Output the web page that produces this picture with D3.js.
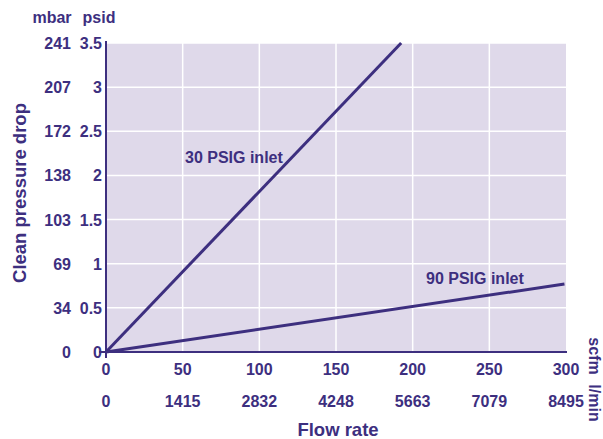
<!DOCTYPE html>
<html><head><meta charset="utf-8">
<script src="https://cdn.jsdelivr.net/npm/d3@7"></script>
<style>body{margin:0;background:#fff}text{font-family:"Liberation Sans",Arial,sans-serif;font-weight:bold;fill:#3d2f7f}</style>
</head><body>
<script>
const psidTicks = [0, 0.5, 1, 1.5, 2, 2.5, 3, 3.5];
const mbarLabels = ["0", "34", "69", "103", "138", "172", "207", "241"];
const scfmTicks = [0, 50, 100, 150, 200, 250, 300];
const lminLabels = ["0", "1415", "2832", "4248", "5663", "7079", "8495"];
const series30 = [[0, 0], [192.5, 3.5]];
const series90 = [[0, 0], [299, 0.77]];

const W = 603, H = 439, col = "#3d2f7f";
const svg = d3.select("body").append("svg").attr("width", W).attr("height", H);
const x = d3.scaleLinear().domain([0, 300]).range([106, 566]);
const y = d3.scaleLinear().domain([0, 3.5]).range([352, 43]);

svg.append("rect").attr("x", 107).attr("y", y(3.5)).attr("width", x(300) - 107).attr("height", y(0) - y(3.5)).attr("fill", "#dfd9ea");
svg.append("g").selectAll("line").data(psidTicks.slice(1)).join("line")
  .attr("x1", 107).attr("x2", x(300)).attr("y1", d => y(d)).attr("y2", d => y(d))
  .attr("stroke", "#fff").attr("stroke-width", 1.5);
svg.append("g").selectAll("line").data(scfmTicks.slice(1, -1)).join("line")
  .attr("x1", d => x(d)).attr("x2", d => x(d)).attr("y1", y(3.5)).attr("y2", y(0))
  .attr("stroke", "#fff").attr("stroke-width", 1.5);

// axes
svg.append("line").attr("x1", x(0)).attr("x2", x(0)).attr("y1", 41).attr("y2", y(0) + 6).attr("stroke", col).attr("stroke-width", 2);
svg.append("line").attr("x1", x(0) - 7).attr("x2", x(300) + 1).attr("y1", y(0)).attr("y2", y(0)).attr("stroke", col).attr("stroke-width", 2);

// y labels
const fs = 16;
svg.append("g").selectAll("text").data(psidTicks).join("text")
  .attr("x", 102).attr("y", d => y(d) + 6).attr("text-anchor", "end").attr("font-size", fs).text(d => d);
svg.append("g").selectAll("text").data(mbarLabels).join("text")
  .attr("x", 71).attr("y", (d, i) => y(psidTicks[i]) + 6).attr("text-anchor", "end").attr("font-size", fs).text(d => d);
svg.append("text").attr("x", 52).attr("y", 23).attr("text-anchor", "middle").attr("font-size", fs).text("mbar");
svg.append("text").attr("x", 99).attr("y", 23).attr("text-anchor", "middle").attr("font-size", fs).text("psid");

// x labels
svg.append("g").selectAll("text").data(scfmTicks).join("text")
  .attr("x", d => x(d)).attr("y", 375).attr("text-anchor", "middle").attr("font-size", fs).text(d => d);
svg.append("g").selectAll("text").data(lminLabels).join("text")
  .attr("x", (d, i) => x(scfmTicks[i])).attr("y", 407).attr("text-anchor", "middle").attr("font-size", fs).text(d => d);
svg.append("text").attr("transform", "translate(589,356) rotate(90)").attr("text-anchor", "middle").attr("font-size", fs).text("scfm");
svg.append("text").attr("transform", "translate(589,403) rotate(90)").attr("text-anchor", "middle").attr("font-size", fs).text("l/min");

// titles
svg.append("text").attr("x", 338).attr("y", 436).attr("text-anchor", "middle").attr("font-size", 18.5).text("Flow rate");
svg.append("text").attr("transform", "translate(26,193) rotate(-90)").attr("text-anchor", "middle").attr("font-size", 18.5).text("Clean pressure drop");

// lines
const line = d3.line().x(d => x(d[0])).y(d => y(d[1]));
[series30, series90].forEach(s => svg.append("path").attr("d", line(s)).attr("fill", "none").attr("stroke", col).attr("stroke-width", 3));
svg.append("text").attr("x", 185).attr("y", 163).attr("font-size", fs).text("30 PSIG inlet");
svg.append("text").attr("x", 426).attr("y", 284).attr("font-size", fs).text("90 PSIG inlet");
</script>
</body></html>
